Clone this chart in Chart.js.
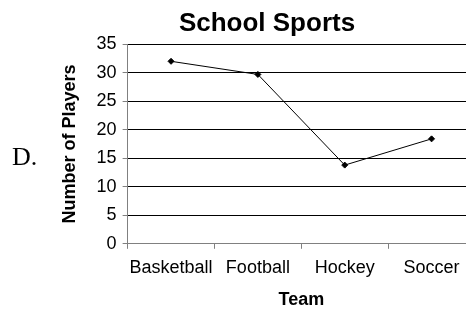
<!DOCTYPE html>
<html>
<head>
<meta charset="utf-8">
<script src="https://cdn.jsdelivr.net/npm/chart.js@4/dist/chart.umd.min.js"></script>
<style>
  html, body { margin: 0; padding: 0; background: #fff; overflow: hidden; }
  canvas { display: block; }
</style>
</head>
<body>
<canvas id="chart-sports" width="480" height="311" style="width:480px;height:311px"></canvas>
<script>
const teams   = ['Basketball', 'Football', 'Hockey', 'Soccer'];
const players = [32, 29.7, 13.8, 18.4];
const yTicks  = [0, 5, 10, 15, 20, 25, 30, 35];

const FONT = '"Liberation Sans", Arial, sans-serif';

// the "D." answer letter at the left
const answerLabel = {
  id: 'answerLabel',
  afterDraw(chart) {
    const c = chart.ctx;
    c.save();
    c.font = '26px "Liberation Serif", "Times New Roman", serif';
    c.fillStyle = '#000';
    c.textBaseline = 'middle';
    c.fillText('D.', 12, 158);
    c.restore();
  },
};

new Chart(document.getElementById('chart-sports').getContext('2d'), {
  type: 'line',
  data: {
    labels: teams,
    datasets: [{
      data: players,
      borderColor: '#000',
      borderWidth: 1,
      tension: 0,
      pointStyle: 'rectRot',
      pointRadius: 3,
      pointBackgroundColor: '#000',
      pointBorderColor: '#000',
    }],
  },
  options: {
    responsive: false,
    animation: false,
    layout: { padding: { left: 59, right: 5, top: 0, bottom: 0 } },
    plugins: {
      legend: { display: false },
      tooltip: { enabled: false },
      title: {
        display: true,
        text: 'School Sports',
        color: '#000',
        font: { family: FONT, size: 26, weight: 'bold' },
        padding: { top: 8, bottom: 5 },
      },
    },
    scales: {
      x: {
        offset: true,
        grid: { offset: true, drawOnChartArea: false, tickLength: 5, color: '#808080' },
        border: { color: '#808080' },
        ticks: {
          color: '#000', padding: 8, autoSkip: false, maxRotation: 0,
          font: { family: FONT, size: 18 },
        },
        title: {
          display: true, text: 'Team', color: '#000',
          font: { family: FONT, size: 18, weight: 'bold' },
          padding: { top: 3, bottom: 0 },
        },
      },
      y: {
        min: 0,
        max: 35,
        afterBuildTicks(scale) { scale.ticks = yTicks.map(v => ({ value: v })); },
        grid: {
          tickLength: 5,
          color: c => c.tick && c.tick.value === 0 ? '#808080' : '#000',
          tickColor: '#808080',
        },
        border: { color: '#808080' },
        ticks: { color: '#000', padding: 6, font: { family: FONT, size: 18 } },
        title: {
          display: true, text: 'Number of Players', color: '#000',
          font: { family: FONT, size: 18, weight: 'bold' },
          padding: { top: 0, bottom: 10 },
        },
      },
    },
  },
  plugins: [answerLabel],
});
</script>
</body>
</html>
